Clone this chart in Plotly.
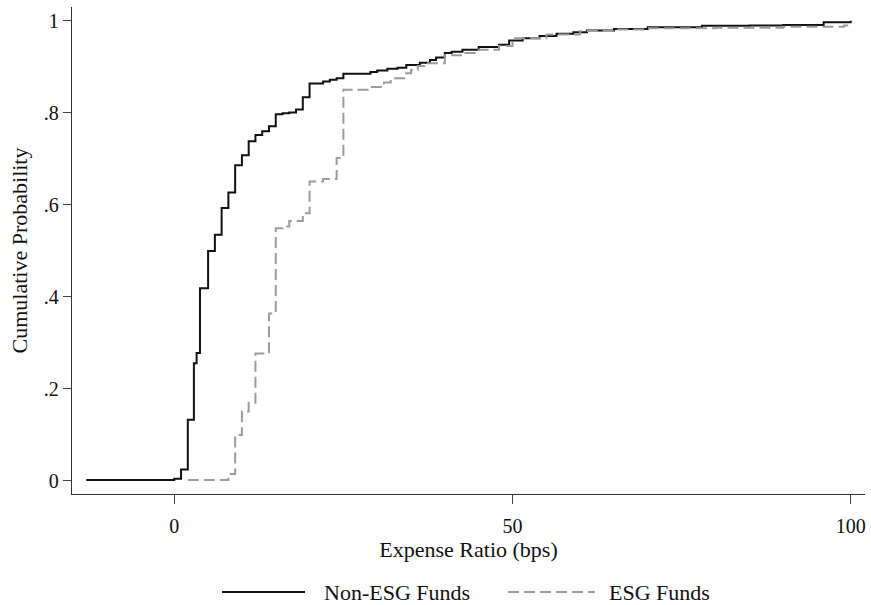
import plotly.graph_objects as go

# Non-ESG funds: empirical CDF step points (expense ratio in bps, cumulative probability)
nonesg_x = [-13, 0, 1, 2, 2.9, 3.3, 3.8, 5, 6, 7, 8, 9, 10, 11, 12, 13, 14, 15, 16, 17, 18, 19, 20,
            22, 23, 24, 25, 29, 30, 31.5, 33, 34.3, 36.3, 37.8, 38.7, 40, 41, 42.6, 45, 48, 49.5,
            51.5, 54, 56.5, 59, 61, 65, 70, 78, 85, 90, 96, 100]
nonesg_y = [0.002, 0.005, 0.025, 0.133, 0.256, 0.278, 0.419, 0.500, 0.535, 0.593, 0.627, 0.686, 0.708,
            0.738, 0.752, 0.760, 0.771, 0.797, 0.799, 0.801, 0.807, 0.834, 0.864,
            0.868, 0.872, 0.875, 0.885, 0.889, 0.892, 0.896, 0.898, 0.904, 0.909, 0.915, 0.920, 0.930,
            0.933, 0.937, 0.943, 0.948, 0.957, 0.962, 0.967, 0.972, 0.975, 0.979, 0.982, 0.986, 0.989,
            0.990, 0.991, 0.997, 1.000]

# ESG funds
esg_x = [2, 8, 9, 10, 11, 12, 14, 15, 16, 17, 19, 20, 22, 24, 25, 29, 31, 32, 34, 35, 36, 37, 40, 43,
         45, 48, 50, 55, 60, 65, 70, 80, 90, 99, 100]
esg_y = [0.002, 0.015, 0.100, 0.151, 0.170, 0.277, 0.364, 0.549, 0.553, 0.565, 0.582, 0.651, 0.656,
         0.702, 0.850, 0.856, 0.866, 0.875, 0.886, 0.893, 0.902, 0.908, 0.925, 0.930, 0.937, 0.945,
         0.962, 0.970, 0.978, 0.981, 0.984, 0.985, 0.987, 0.990, 0.991]

x_ticks = [0, 50, 100]
y_ticks = [0, 0.2, 0.4, 0.6, 0.8, 1]
y_ticklabels = ["0", ".2", ".4", ".6", ".8", "1"]
series_names = ["Non-ESG Funds", "ESG Funds"]

FONT = "Liberation Serif"
L, R, T, B = 72, 6, 7, 111
W, H = 871, 605
pw, ph = W - L - R, H - T - B
ESG_DASH = "11px,5px"

fig = go.Figure()
fig.add_trace(go.Scatter(x=nonesg_x, y=nonesg_y, mode="lines", line_shape="hv",
                         line=dict(color="#111111", width=2), name=series_names[0],
                         showlegend=False))
fig.add_trace(go.Scatter(x=esg_x, y=esg_y, mode="lines", line_shape="hv",
                         line=dict(color="#9c9c9c", width=2, dash=ESG_DASH), name=series_names[1],
                         showlegend=False))

def px2paper(px, py):
    return (px - L) / pw, (H - B - py) / ph

# manual legend (to match long line samples)
ly = 592
for (x0, x1, tx, name, col, dash) in [(222, 305, 322, series_names[0], "#111111", "solid"),
                                       (508, 595, 607, series_names[1], "#9c9c9c", ESG_DASH)]:
    a, yy = px2paper(x0, ly)
    b, _ = px2paper(x1, ly)
    t, _ = px2paper(tx, ly)
    fig.add_shape(type="line", xref="paper", yref="paper", x0=a, x1=b, y0=yy, y1=yy,
                  line=dict(color=col, width=2, dash=dash))
    fig.add_annotation(xref="paper", yref="paper", x=t, y=yy, xanchor="left", yanchor="middle",
                       text=name, showarrow=False, font=dict(family=FONT, size=22, color="#111111"))

fig.update_layout(
    width=W, height=H,
    margin=dict(l=L, r=R, t=T, b=B),
    paper_bgcolor="white", plot_bgcolor="white",
    font=dict(family=FONT, size=20, color="#111111"),
    showlegend=False,
)
fig.update_xaxes(range=[-15.12, 102.11], tickvals=x_ticks, ticks="outside", ticklen=9,
                 tickcolor="#444444", showline=True, linecolor="#333333", linewidth=1.3,
                 showgrid=False, zeroline=False, ticklabelstandoff=5,
                 title=dict(text="Expense Ratio (bps)", font=dict(size=22), standoff=2))
fig.update_yaxes(range=[-0.0283, 1.03], tickvals=y_ticks, ticktext=y_ticklabels, ticks="outside",
                 ticklen=8, tickcolor="#444444", showline=True, linecolor="#333333", linewidth=1.3,
                 showgrid=False, zeroline=False,
                 title=dict(text="Cumulative Probability", font=dict(size=22), standoff=10))

fig.write_html("out.html")
